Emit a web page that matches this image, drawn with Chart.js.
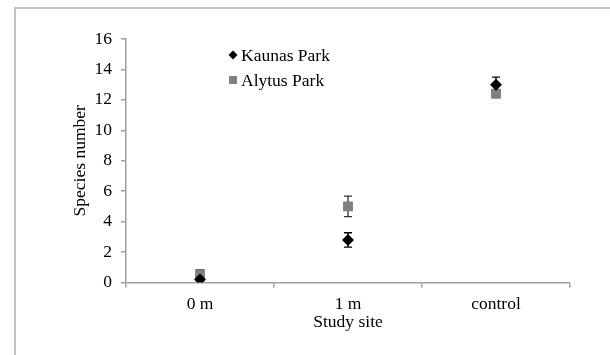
<!DOCTYPE html>
<html>
<head>
<meta charset="utf-8">
<script src="https://cdn.jsdelivr.net/npm/chart.js@4.4.0/dist/chart.umd.min.js"></script>
<style>
  html, body { margin: 0; padding: 0; background: #fff; }
  #wrap { position: relative; width: 610px; height: 355px; }
  #frame { position: absolute; left: 14px; top: 7px; right: 0; bottom: 0;
           border-left: 2px solid #c4c4c4; border-top: 2px solid #c4c4c4; }
  canvas { position: absolute; left: 0; top: 0; }
</style>
</head>
<body>
<div id="wrap">
  <div id="frame"></div>
  <canvas id="speciesChart" width="610" height="355"></canvas>
</div>
<script>
// Categorie e valori
var sites = ['0 m', '1 m', 'control'];
var kaunas = [0.2, 2.8, 13.0];
var kaunasErr = [0.1, 0.47, 0.5];
var alytus = [0.55, 5.0, 12.4];
var alytusErr = [0.3, 0.67, 0.2];
var yTicks = [0, 2, 4, 6, 8, 10, 12, 14, 16];

var serif = "'Liberation Serif', 'Times New Roman', serif";
var axisColor = '#a0a0a0';

// barre di errore disegnate dalle scale del grafico
var errorBars = {
    id: 'errorBars',
    beforeDatasetsDraw: function(chart) {
        var ctx = chart.ctx;
        var y = chart.scales.y;
        chart.data.datasets.forEach(function(ds, i) {
            var meta = chart.getDatasetMeta(i);
            meta.data.forEach(function(pt, j) {
                var e = ds.errors[j];
                var top = y.getPixelForValue(ds.data[j] + e);
                var bot = y.getPixelForValue(ds.data[j] - e);
                ctx.save();
                ctx.strokeStyle = ds.errorColor;
                ctx.lineWidth = 1.3;
                ctx.beginPath();
                ctx.moveTo(pt.x, top); ctx.lineTo(pt.x, bot);
                ctx.moveTo(pt.x - 4, top); ctx.lineTo(pt.x + 4, top);
                ctx.moveTo(pt.x - 4, bot); ctx.lineTo(pt.x + 4, bot);
                ctx.stroke();
                ctx.restore();
            });
        });
    }
};

// legenda dentro l'area del grafico
var insideLegend = {
    id: 'insideLegend',
    afterDraw: function(chart) {
        var ctx = chart.ctx;
        var a = chart.chartArea;
        var x = a.left + 107, y1 = a.top + 16, y2 = a.top + 41;
        ctx.save();
        ctx.fillStyle = '#000';
        ctx.beginPath();
        ctx.moveTo(x, y1 - 4.5); ctx.lineTo(x + 4.5, y1); ctx.lineTo(x, y1 + 4.5); ctx.lineTo(x - 4.5, y1);
        ctx.closePath();
        ctx.fill();
        ctx.fillStyle = '#808080';
        ctx.fillRect(x - 4, y2 - 4, 8, 8);
        ctx.fillStyle = '#000';
        ctx.font = '17.5px ' + serif;
        ctx.textBaseline = 'middle';
        ctx.fillText('Kaunas Park', x + 8, y1 + 1);
        ctx.fillText('Alytus Park', x + 8, y2 + 1);
        ctx.restore();
    }
};

var ctx = document.getElementById('speciesChart').getContext('2d');
var speciesChart = new Chart(ctx, {
    type: 'line',
    data: {
        labels: sites,
        datasets: [{
            label: 'Kaunas Park',
            data: kaunas,
            errors: kaunasErr,
            errorColor: '#000',
            showLine: false,
            pointStyle: 'rectRot',
            pointRadius: 6,
            backgroundColor: '#000',
            borderColor: '#000',
            borderWidth: 0
        }, {
            label: 'Alytus Park',
            data: alytus,
            errors: alytusErr,
            errorColor: '#333',
            showLine: false,
            pointStyle: 'rect',
            pointRadius: 7,
            backgroundColor: '#808080',
            borderColor: '#808080',
            borderWidth: 0
        }]
    },
    options: {
        responsive: false,
        animation: false,
        layout: { padding: { left: 0, right: 40, top: 39, bottom: 0 } },
        plugins: {
            legend: { display: false },
            tooltip: { enabled: false }
        },
        scales: {
            x: {
                offset: true,
                afterFit: function(s) { s.height = 72.5; },
                border: { color: axisColor, width: 1.5 },
                grid: { offset: true, drawOnChartArea: false, color: axisColor, tickLength: 5, lineWidth: 1.5 },
                ticks: { color: '#000', padding: 6, font: { family: serif, size: 17.5 } },
                title: { display: true, text: 'Study site', color: '#000',
                         padding: { top: 0, bottom: 22 }, font: { family: serif, size: 17.5 } }
            },
            y: {
                min: 0,
                max: 16,
                afterFit: function(s) { s.width = 126; },
                afterBuildTicks: function(s) { s.ticks = yTicks.map(function(v) { return { value: v }; }); },
                border: { color: axisColor, width: 1.5 },
                grid: { drawOnChartArea: false, color: axisColor, tickLength: 5, lineWidth: 1.5 },
                ticks: { color: '#000', padding: 9, font: { family: serif, size: 17.5 } },
                title: { display: true, text: 'Species number', color: '#000',
                         padding: { top: 70, bottom: 0 }, font: { family: serif, size: 17.5 } }
            }
        }
    },
    plugins: [errorBars, insideLegend]
});
</script>
</body>
</html>
